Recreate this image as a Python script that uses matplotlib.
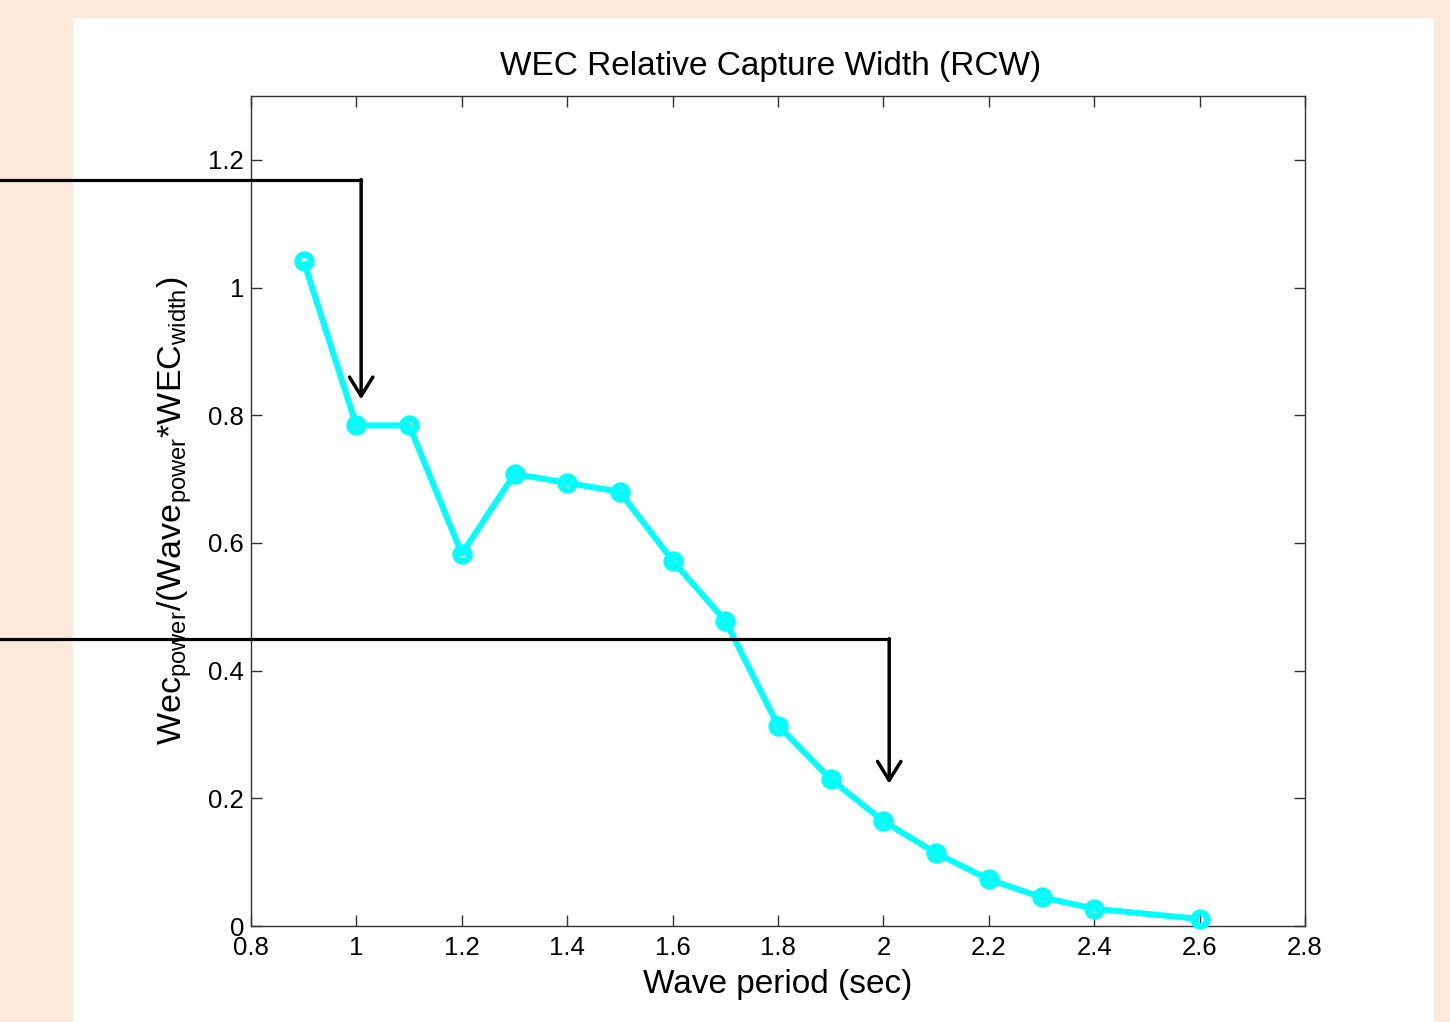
import matplotlib
matplotlib.use("Agg")
import matplotlib.pyplot as plt
from matplotlib.patches import Rectangle
from matplotlib.transforms import blended_transform_factory

# ---- data ----
wave_period = [0.9, 1.0, 1.1, 1.2, 1.3, 1.4, 1.5, 1.6, 1.7, 1.8, 1.9, 2.0, 2.1, 2.2, 2.3, 2.4, 2.6]
rcw = [1.041, 0.784, 0.784, 0.583, 0.708, 0.694, 0.680, 0.572, 0.478, 0.314,
       0.230, 0.164, 0.114, 0.073, 0.045, 0.027, 0.011]
x_ticks = [0.8, 1.0, 1.2, 1.4, 1.6, 1.8, 2.0, 2.2, 2.4, 2.6, 2.8]
x_tick_labels = ["0.8", "1", "1.2", "1.4", "1.6", "1.8", "2", "2.2", "2.4", "2.6", "2.8"]
y_ticks = [0, 0.2, 0.4, 0.6, 0.8, 1.0, 1.2]
y_tick_labels = ["0", "0.2", "0.4", "0.6", "0.8", "1", "1.2"]
# annotation arrows: (corner x, horizontal y, arrow tip y)
arrow1 = (1.009, 1.169, 0.825)
arrow2 = (2.011, 0.450, 0.223)

plt.rcParams['font.family'] = ['Liberation Sans', 'DejaVu Sans']
plt.rcParams['mathtext.fontset'] = 'custom'
plt.rcParams['mathtext.rm'] = 'Liberation Sans'
plt.rcParams['mathtext.it'] = 'Liberation Sans'

fig = plt.figure(figsize=(14.5, 10.22), dpi=100)
fig.patch.set_facecolor('#FDE9DA')
fig.patches.append(Rectangle((73 / 1450, 0), (1434 - 73) / 1450, (1022 - 18) / 1022,
                             transform=fig.transFigure, facecolor='white',
                             edgecolor='none', zorder=-10))

ax = fig.add_axes([251 / 1450, (1022 - 926) / 1022, (1305 - 251) / 1450, (926 - 96) / 1022])
ax.set_facecolor('white')

ax.plot(wave_period, rcw, color='#00FFFF', lw=4.3, marker='o', ms=9.8,
        mfc='none', mec='#00FFFF', mew=4.8, clip_on=False, zorder=3,
        solid_capstyle='butt', solid_joinstyle='round')

ax.set_xlim(0.8, 2.8)
ax.set_ylim(0, 1.3)
ax.set_xticks(x_ticks)
ax.set_xticklabels(x_tick_labels)
ax.set_yticks(y_ticks)
ax.set_yticklabels(y_tick_labels)
ax.tick_params(direction='in', length=8, width=1, top=True, right=True,
               labelsize=18.5, pad=5, colors='#333333', labelcolor='black')
ax.tick_params(axis='x', pad=7)
for sp in ax.spines.values():
    sp.set_color('#333333')
    sp.set_linewidth(1)

ax.set_title('WEC Relative Capture Width (RCW)', fontsize=24, pad=15, x=0.493)
ax.set_xlabel('Wave period (sec)', fontsize=24, labelpad=7)
ax.set_ylabel(r'Wec$_{\mathrm{power}}$/(Wave$_{\mathrm{power}}$*WEC$_{\mathrm{width}}$)',
              fontsize=24.5, labelpad=10)

# annotation arrows
blend = blended_transform_factory(fig.transFigure, ax.transData)
fig.canvas.draw()
for cx, hy, ty in (arrow1, arrow2):
    xf = fig.transFigure.inverted().transform(ax.transData.transform((cx, hy)))[0]
    line = plt.Line2D([0, xf], [hy, hy], transform=blend, color='black', lw=2.3,
                      clip_on=False, zorder=5, solid_capstyle='projecting')
    fig.add_artist(line)
    ax.annotate('', xy=(cx, ty), xytext=(cx, hy), xycoords='data',
                arrowprops=dict(arrowstyle='->,head_length=0.68,head_width=0.42',
                                color='black', lw=2.5, shrinkA=0, shrinkB=0,
                                mutation_scale=20),
                annotation_clip=False, zorder=5)

fig.savefig('out.png', dpi=100, facecolor=fig.get_facecolor())
